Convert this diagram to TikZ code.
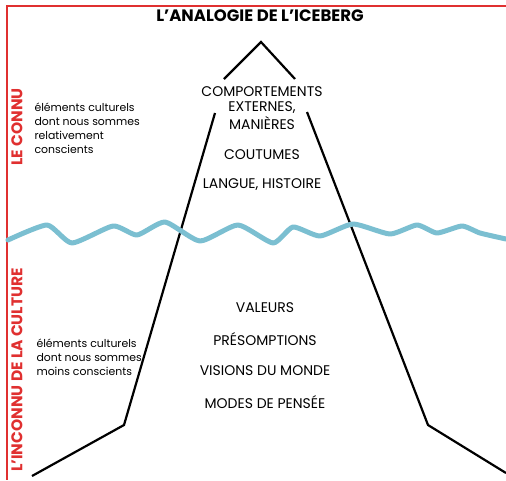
\documentclass[tikz,border=0pt]{standalone}
\usepackage{fontspec}
\setmainfont{Poppins}
\definecolor{framered}{HTML}{E03030}
\definecolor{waterblue}{HTML}{7BBFD1}

\begin{document}
\begin{tikzpicture}[x=1pt,y=-1pt]

\useasboundingbox (0,0) rectangle (506,480);

\tikzset{
  layer/.style={font=\fontsize{14}{14}\selectfont},
  side/.style={font=\fontsize{10.9}{13.9}\selectfont, align=left, anchor=west},
  zone/.style={font=\fontsize{15.5}{15.5}\selectfont\bfseries, text=framered, rotate=90},
  berg/.style={line width=2.2pt, line cap=butt, line join=miter},
  wave/.style={waterblue, line width=5pt, line cap=round, line join=round}
}

% cadre
\coordinate(frameright) at (506,6);
\coordinate(framecorner) at (7,6);
\coordinate(framebottom) at (7,480);
\draw[framered, line width=2pt] (frameright) to (framecorner) to (framebottom);

\node[font=\fontsize{16.5}{16.5}\selectfont\bfseries] (title) at (260,16) {L’ANALOGIE DE L’ICEBERG};

% sommet
\coordinate(Pa) at (224,79);
\coordinate(Pb) at (261,42);
\coordinate(Pc) at (295,79);
\draw[berg] (Pa) to (Pb) to (Pc);

% flancs
\coordinate(La) at (215,113);
\coordinate(Lb) at (124,425);
\coordinate(Lc) at (32,476);
\coordinate(Ra) at (307,112);
\coordinate(Rb) at (428,425);
\coordinate(Rc) at (506,473);
\draw[berg] (La) to (Lb) to (Lc);
\draw[berg] (Ra) to (Rb) to (Rc);

% surface de l'eau
\draw[wave] plot[smooth, tension=0.35] coordinates {
  (8,240) (47,225) (72,243) (113,226) (137,235) (165,222) (200,241)
  (238,225) (273,243) (293,227) (320,236) (353,224) (390,234)
  (417,225) (437,233) (462,226) (480,233) (506,239)};

% partie visible
\node[layer] (comportements) at (262,92) {COMPORTEMENTS};
\node[layer] (externes) at (262,108) {EXTERNES,};
\node[layer] (manieres) at (262,123) {MANIÈRES};
\node[layer] (coutumes) at (262,155) {COUTUMES};
\node[layer] (langue) at (262,185) {LANGUE, HISTOIRE};

% partie immergee
\node[layer] (valeurs) at (265,308) {VALEURS};
\node[layer] (presomptions) at (265,339) {PRÉSOMPTIONS};
\node[layer] (visions) at (265,371) {VISIONS DU MONDE};
\node[layer] (modes) at (265,402) {MODES DE PENSÉE};

\node[side] (connutext) at (31,128)
  {éléments culturels\\dont nous sommes\\relativement\\conscients};
\node[side] (inconnutext) at (33,357)
  {éléments culturels\\dont nous sommes\\moins conscients};

\node[zone] (connu) at (17,127) {LE CONNU};
\node[zone] (inconnu) at (17,370) {L’INCONNU DE LA CULTURE};

\end{tikzpicture}
\end{document}
